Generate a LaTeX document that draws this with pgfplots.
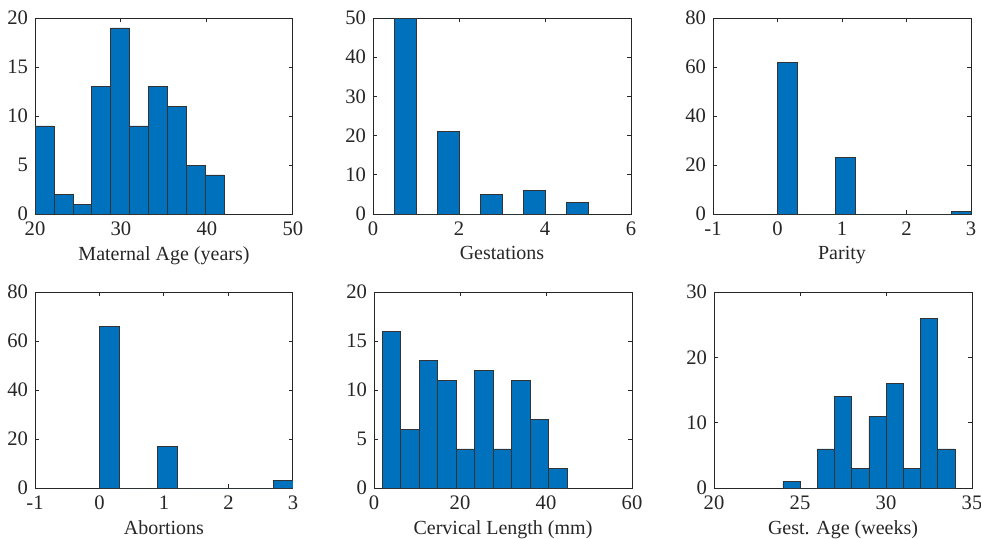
\documentclass[border=0pt]{standalone}
\usepackage{pgfplots}
\pgfplotsset{compat=1.18}
\usepackage{fontspec}
\setmainfont{Liberation Serif}
\definecolor{mblue}{HTML}{0072BD}
\definecolor{axgray}{HTML}{262626}
\pgfplotsset{
  hstyle/.style={
    scale only axis, width=129pt, height=98pt, anchor=south west,
    axis line style={axgray, line width=0.5pt},
    tick style={axgray, line width=0.5pt},
    tick align=inside, major tick length=2pt,
    xtick pos=both, ytick pos=both,
    ymin=0,
    /pgf/number format/assume math mode=true,
    xticklabel={\pgfmathprintnumber{\tick}},
    yticklabel={\pgfmathprintnumber{\tick}},
    ticklabel style={font=\fontsize{10.3pt}{11pt}\selectfont, text=axgray},
    xlabel style={font=\fontsize{10pt}{11pt}\selectfont, text=axgray, yshift=1.5pt},
    xticklabel style={yshift=-0.5pt},
    yticklabel style={xshift=0pt},
    scaled ticks=false,
  },
  hbar/.style={ybar interval, fill=mblue, draw=black!80, line width=0.3pt},
}
\begin{document}
\begin{tikzpicture}
\path[use as bounding box] (0,0) rectangle (490.5pt,269pt);
% Maternal Age
\begin{axis}[hstyle, at={(17.5pt,162pt)}, xmin=20, xmax=50, ymax=20,
  xtick={20,30,40,50}, ytick={0,5,10,15,20}, xlabel={Maternal Age (years)}]
\addplot[hbar] coordinates {(20,9) (22.2,2) (24.4,1) (26.6,13) (28.8,19) (31,9) (33.2,13) (35.4,11) (37.6,5) (39.8,4) (42,4)};
\end{axis}
% Gestations
\begin{axis}[hstyle, at={(186.5pt,162pt)}, xmin=0, xmax=6, ymax=50,
  xtick={0,2,4,6}, ytick={0,10,20,30,40,50}, xlabel={Gestations}]
\addplot[hbar] coordinates {(0.5,50) (1,0) (1.5,21) (2,0) (2.5,5) (3,0) (3.5,6) (4,0) (4.5,3) (5,3)};
\end{axis}
% Parity
\begin{axis}[hstyle, at={(356.5pt,162pt)}, xmin=-1, xmax=3, ymax=80,
  xtick={-1,0,1,2,3}, xticklabels={-1,0,1,2,3}, ytick={0,20,40,60,80}, xlabel={Parity}]
\addplot[hbar] coordinates {(0,62) (0.3,0) (0.6,0) (0.9,23) (1.2,0) (1.5,0) (1.8,0) (2.1,0) (2.4,0) (2.7,1) (3,1)};
\end{axis}
% Abortions
\begin{axis}[hstyle, at={(17.5pt,25pt)}, xmin=-1, xmax=3, ymax=80,
  xtick={-1,0,1,2,3}, xticklabels={-1,0,1,2,3}, ytick={0,20,40,60,80}, xlabel={Abortions}]
\addplot[hbar] coordinates {(0,66) (0.3,0) (0.6,0) (0.9,17) (1.2,0) (1.5,0) (1.8,0) (2.1,0) (2.4,0) (2.7,3) (3,3)};
\end{axis}
% Cervical Length
\begin{axis}[hstyle, at={(187pt,25pt)}, xmin=0, xmax=60, ymax=20,
  xtick={0,20,40,60}, ytick={0,5,10,15,20}, xlabel={Cervical Length (mm)}]
\addplot[hbar] coordinates {(1.94,16) (6.23,6) (10.52,13) (14.81,11) (19.1,4) (23.39,12) (27.68,4) (31.97,11) (36.26,7) (40.55,2) (44.84,2)};
\end{axis}
% Gest. Age
\begin{axis}[hstyle, at={(357pt,25pt)}, xmin=20, xmax=35, ymax=30,
  xtick={20,25,30,35}, ytick={0,10,20,30}, xlabel={Gest. Age (weeks)}]
\addplot[hbar] coordinates {(24,1) (25,0) (26,6) (27,14) (28,3) (29,11) (30,16) (31,3) (32,26) (33,6) (34,6)};
\end{axis}
\end{tikzpicture}
\end{document}
